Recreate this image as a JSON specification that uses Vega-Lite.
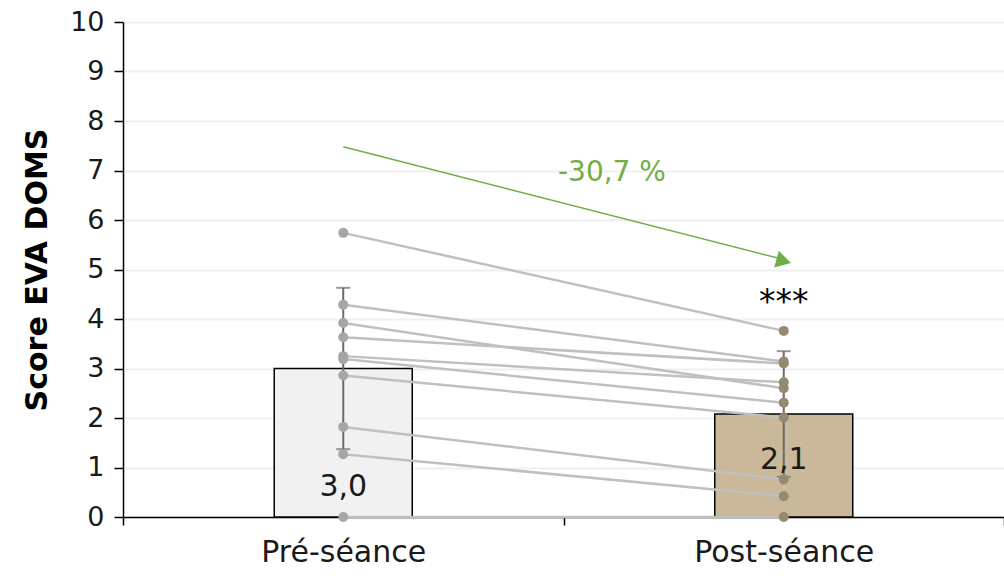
{
  "$schema": "https://vega.github.io/schema/vega-lite/v6.json",
  "autosize": {"type": "none"},
  "width": 881,
  "height": 495,
  "padding": {"left": 123, "top": 22, "right": 0, "bottom": 59},
  "background": "white",
  "config": {
    "font": "DejaVu Sans",
    "view": {"stroke": null}
  },
  "datasets": {
    "summary": [
      {"phase": "Pré-séance", "mean": 3.0, "lo": 1.37, "hi": 4.63},
      {"phase": "Post-séance", "mean": 2.08, "lo": 0.81, "hi": 3.35}
    ],
    "subjects": [
      {"subject": "S1", "phase": "Pré-séance", "value": 5.74},
      {"subject": "S1", "phase": "Post-séance", "value": 3.76},
      {"subject": "S2", "phase": "Pré-séance", "value": 4.29},
      {"subject": "S2", "phase": "Post-séance", "value": 3.14},
      {"subject": "S3", "phase": "Pré-séance", "value": 3.92},
      {"subject": "S3", "phase": "Post-séance", "value": 2.6},
      {"subject": "S4", "phase": "Pré-séance", "value": 3.63},
      {"subject": "S4", "phase": "Post-séance", "value": 3.1},
      {"subject": "S5", "phase": "Pré-séance", "value": 3.25},
      {"subject": "S5", "phase": "Post-séance", "value": 2.72},
      {"subject": "S6", "phase": "Pré-séance", "value": 3.19},
      {"subject": "S6", "phase": "Post-séance", "value": 2.31},
      {"subject": "S7", "phase": "Pré-séance", "value": 2.86},
      {"subject": "S7", "phase": "Post-séance", "value": 2.01},
      {"subject": "S8", "phase": "Pré-séance", "value": 1.82},
      {"subject": "S8", "phase": "Post-séance", "value": 0.76},
      {"subject": "S9", "phase": "Pré-séance", "value": 1.27},
      {"subject": "S9", "phase": "Post-séance", "value": 0.42},
      {"subject": "S10", "phase": "Pré-séance", "value": 0.0},
      {"subject": "S10", "phase": "Post-séance", "value": 0.0}
    ]
  },
  "encoding": {
    "x": {
      "field": "phase", "type": "nominal", "sort": ["Pré-séance", "Post-séance"],
      "scale": {"domain": ["Pré-séance", "Post-séance"], "paddingInner": 0, "paddingOuter": 0},
      "axis": {
        "title": null, "labelAngle": 0, "labelFontSize": 30, "labelColor": "#1a1a1a",
        "labelPadding": 12, "labelLimit": 400, "domainColor": "#000000", "domainWidth": 1.5,
        "tickColor": "#000000", "tickWidth": 1.5, "tickSize": 8, "tickBand": "extent"
      }
    }
  },
  "layer": [
    {
      "data": {"name": "summary"},
      "mark": {"type": "bar", "width": 138, "stroke": "#000000", "strokeWidth": 1.5},
      "encoding": {
        "y": {
          "field": "mean", "type": "quantitative",
          "scale": {"domain": [0, 10], "nice": false},
          "axis": {
            "title": "Score EVA DOMS", "titleFontSize": 30, "titleFontWeight": "bold",
            "titleColor": "#000000", "titlePadding": 17,
            "values": [0,1,2,3,4,5,6,7,8,9,10], "labelFontSize": 27, "labelColor": "#1a1a1a",
            "labelPadding": 10, "domainColor": "#000000", "domainWidth": 1.5,
            "tickColor": "#000000", "tickWidth": 1.5, "tickSize": 9,
            "grid": true, "gridColor": "#efefef", "gridWidth": 2
          }
        },
        "fill": {
          "field": "phase", "type": "nominal",
          "scale": {"domain": ["Pré-séance", "Post-séance"], "range": ["#f1f1f1", "#c9b99a"]},
          "legend": null
        }
      }
    },
    {
      "data": {"name": "summary"},
      "mark": {"type": "rule", "color": "#6b6b6b", "strokeWidth": 2},
      "encoding": {
        "y": {"field": "lo", "type": "quantitative"},
        "y2": {"field": "hi"}
      }
    },
    {
      "data": {"name": "summary"},
      "mark": {"type": "tick", "color": "#6b6b6b", "size": 14, "thickness": 2},
      "encoding": {"y": {"field": "hi", "type": "quantitative"}}
    },
    {
      "data": {"name": "summary"},
      "mark": {"type": "tick", "color": "#6b6b6b", "size": 14, "thickness": 2},
      "encoding": {"y": {"field": "lo", "type": "quantitative"}}
    },
    {
      "data": {"name": "subjects"},
      "mark": {"type": "line", "color": "#c0c0c0", "strokeWidth": 2.5},
      "encoding": {
        "y": {"field": "value", "type": "quantitative"},
        "detail": {"field": "subject", "type": "nominal"}
      }
    },
    {
      "data": {"name": "subjects"},
      "mark": {"type": "point", "filled": true, "opacity": 1, "size": 100},
      "encoding": {
        "y": {"field": "value", "type": "quantitative"},
        "color": {
          "field": "phase", "type": "nominal",
          "scale": {"domain": ["Pré-séance", "Post-séance"], "range": ["#a6a6a6", "#958a6f"]},
          "legend": null
        }
      }
    },
    {
      "data": {"values": [{"phase": "Pré-séance", "label": "3,0"}]},
      "mark": {"type": "text", "fontSize": 30, "color": "#1a1a1a", "baseline": "middle"},
      "encoding": {"y": {"datum": 0.6}, "text": {"field": "label"}}
    },
    {
      "data": {"values": [{"phase": "Post-séance", "label": "2,1"}]},
      "mark": {"type": "text", "fontSize": 30, "color": "#1a1a1a", "baseline": "middle"},
      "encoding": {"y": {"datum": 1.15}, "text": {"field": "label"}}
    },
    {
      "data": {"values": [{"phase": "Post-séance", "label": "***"}]},
      "mark": {"type": "text", "fontSize": 33, "color": "#000000", "baseline": "middle"},
      "encoding": {"y": {"datum": 4.33}, "text": {"field": "label"}}
    },
    {
      "data": {"values": [{"from": "Pré-séance", "to": "Post-séance", "y0": 7.48, "y1": 5.2}]},
      "mark": {"type": "rule", "color": "#70ad47", "strokeWidth": 1.5},
      "encoding": {
        "x": {"field": "from", "type": "nominal"},
        "x2": {"field": "to"},
        "y": {"field": "y0", "type": "quantitative"},
        "y2": {"field": "y1"}
      }
    },
    {
      "data": {"values": [{"phase": "Post-séance", "y": 5.17}]},
      "mark": {"type": "point", "shape": "triangle-right", "filled": true, "opacity": 1, "color": "#70ad47", "size": 300, "angle": 15},
      "encoding": {"y": {"field": "y", "type": "quantitative"}}
    },
    {
      "data": {"values": [{"phase": "Post-séance", "label": "-30,7 %"}]},
      "mark": {"type": "text", "fontSize": 28, "color": "#70ad47", "baseline": "middle", "align": "center"},
      "encoding": {
        "x": {"field": "phase", "type": "nominal", "bandPosition": 0.11},
        "y": {"datum": 6.95},
        "text": {"field": "label"}
      }
    }
  ]
}
